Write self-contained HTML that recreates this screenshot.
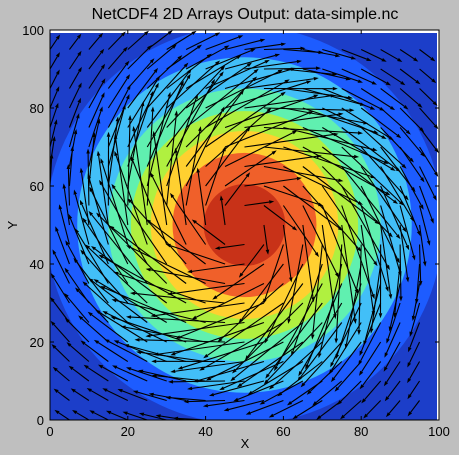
<!DOCTYPE html>
<html><head><meta charset="utf-8"><style>
html,body{margin:0;background:#bfbfbf;width:459px;height:455px;overflow:hidden;}
svg{display:block;font-family:"Liberation Sans",sans-serif;}
</style></head><body>
<svg id="c" width="459" height="455">
<text x="245" y="19" text-anchor="middle" font-size="16">NetCDF4 2D Arrays Output: data-simple.nc</text>
<defs><clipPath id="cp"><rect x="50" y="33" width="387" height="387"/></clipPath>
<clipPath id="cpa"><rect x="50" y="30" width="389" height="390"/></clipPath></defs>
<rect x="50" y="30" width="389" height="390" fill="#fff"/>
<rect x="50" y="33" width="387" height="387" fill="#1c3ec9"/>
<g id="cont" clip-path="url(#cp)"></g>
<g id="arr" clip-path="url(#cpa)"></g>
<rect x="50" y="30" width="389" height="390" fill="none" stroke="#000" stroke-width="1"/>
<g id="ax" font-size="13"></g>
<text x="245" y="448" text-anchor="middle" font-size="13">X</text>
<text x="17" y="225" text-anchor="middle" font-size="13" transform="rotate(-90 17 225)">Y</text>
</svg>
<script>
// contour band outer radii (data units) and colors
const levelRadii=[51,43,35,29.2,24.1,18.5,10.5];
const levelColors=["#1d5cff","#42bff8","#60f0b0","#b0f040","#ffd030","#f0602a","#c83218"];
// arrow speed profile (px length) sampled at radii 0,5,10,...,75
const speedRadii=[0,5,10,15,20,25,30,35,40,45,50,55,60,65,70,75];
const speedLen=[0,30,58,78,95,100,92,75,58,42,34,27,22,19,17,16];
const gridVals=[0,5,10,15,20,25,30,35,40,45,50,55,60,65,70,75,80,85,90,95];
const ticks=[0,20,40,60,80,100];
const cx=50,cy=50,spiralDeg=8;
const X=v=>50+v*3.89, Y=v=>420-v*3.9;
const NS="http://www.w3.org/2000/svg";
function mk(t,a,p){const e=document.createElementNS(NS,t);for(const k in a)e.setAttribute(k,a[k]);p.appendChild(e);return e;}
const cont=document.getElementById('cont');
levelRadii.forEach((r,i)=>{
  const e=mk('ellipse',{cx:X(cx),cy:Y(cy),rx:r*3.89,ry:r*3.9,fill:levelColors[i]},cont);
  
  
});
function speed(r){for(let i=1;i<speedRadii.length;i++){if(r<=speedRadii[i]){const t=(r-speedRadii[i-1])/(speedRadii[i]-speedRadii[i-1]);return speedLen[i-1]+t*(speedLen[i]-speedLen[i-1]);}}return speedLen[speedLen.length-1];}
const arr=document.getElementById('arr');
gridVals.forEach(gx=>gridVals.forEach(gy=>{
  const dx=gx-cx,dy=gy-cy,r=Math.hypot(dx,dy);if(r<0.01)return;
  let L=speed(r);
  const base=Math.atan2(-dx,dy), out=Math.atan2(dy,dx);
  const s=Math.sin(spiralDeg*Math.PI/180),c=Math.cos(spiralDeg*Math.PI/180);
  const ux=Math.cos(base)*c+Math.cos(out)*s;
  const uy=Math.sin(base)*c+Math.sin(out)*s;
  const n=Math.hypot(ux,uy),px=ux/n,py=-uy/n;
  const x0=X(gx),y0=Y(gy);
  // keep arrow geometry within the frame height
  let x1=x0+px*L,y1=y0+py*L;
  if(y1>440){const k=(440-y0)/(y1-y0);L*=k;x1=x0+px*L;y1=y0+py*L;}
  const g=mk('g',{},arr);
  
  
  const h=Math.min(5,L*0.4),w=1.8;
  const bx=x1-px*h,by=y1-py*h;
  mk('line',{x1:x0,y1:y0,x2:bx,y2:by,stroke:'#000','stroke-width':1.1},g);
  mk('polygon',{points:`${x1},${y1} ${bx-py*w},${by+px*w} ${bx+py*w},${by-px*w}`,fill:'#000'},g);
}));
const ax=document.getElementById('ax');
ticks.forEach(t=>{
  const xl=mk('text',{x:X(t),y:436,'text-anchor':'middle'},ax);xl.textContent=t;
  
  
  const yl=mk('text',{x:44,y:Y(t)+5,'text-anchor':'end'},ax);yl.textContent=t;
  
  
  mk('line',{x1:X(t),x2:X(t),y1:420,y2:416,stroke:'#000'},ax);
  mk('line',{x1:X(t),x2:X(t),y1:30,y2:34,stroke:'#000'},ax);
  mk('line',{x1:50,x2:54,y1:Y(t),y2:Y(t),stroke:'#000'},ax);
  mk('line',{x1:439,x2:435,y1:Y(t),y2:Y(t),stroke:'#000'},ax);
});
</script>
</body></html>
